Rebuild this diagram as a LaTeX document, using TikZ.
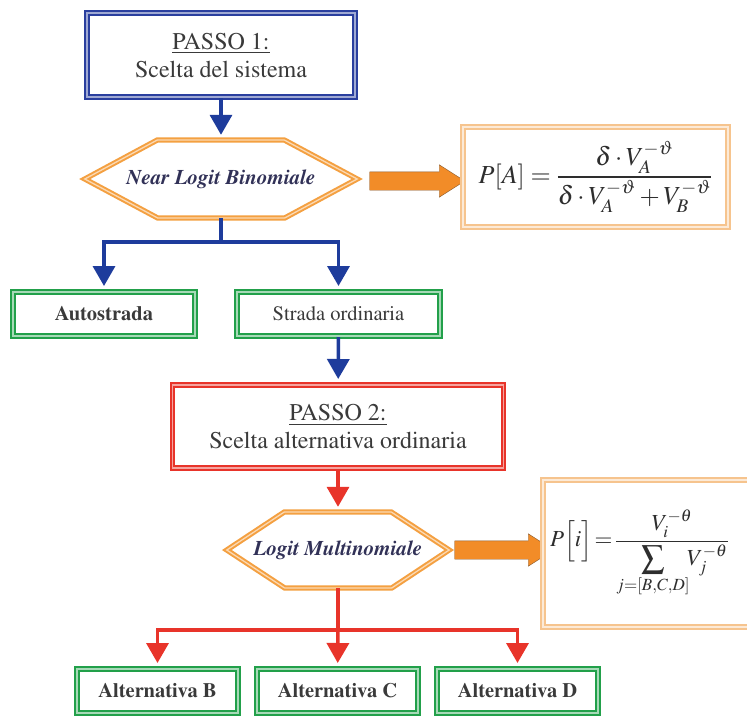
\documentclass[tikz,border=0pt]{standalone}
\usepackage{amsmath}
\usepackage[T1]{fontenc}
\usepackage{mathptmx}
\usetikzlibrary{arrows.meta,shapes.arrows}
\definecolor{passoblu}{HTML}{2A3F9E}
\definecolor{lineablu}{HTML}{1E3C9C}
\definecolor{passorosso}{HTML}{E8342A}
\definecolor{boxverde}{HTML}{22A04A}
\definecolor{esaarancio}{HTML}{F4A041}
\definecolor{formarancio}{HTML}{F6C48E}
\definecolor{frecciaarancio}{HTML}{F28C28}
\definecolor{testo}{HTML}{3A3A3A}
\tikzset{
  passo/.style={draw=#1, line width=2pt, double=#1!45, double distance=1.2pt, fill=white,
    align=center, text=testo, font=\fontsize{24}{28}\selectfont, inner sep=0pt},
  scelta/.style={draw=boxverde, line width=2pt, double=boxverde!40, double distance=1.2pt,
    fill=white, text=testo, font=\fontsize{20.5}{24}\selectfont, minimum height=44pt, inner sep=0pt},
  grassetto/.style={font=\bfseries\fontsize{20.5}{24}\selectfont},
  esagono/.style={draw=esaarancio, line width=2pt, double=esaarancio!40, double distance=1.3pt, line join=miter},
  esatesto/.style={text=testo!85!blue, font=\bfseries\itshape\fontsize{21}{25}\selectfont, inner sep=0pt},
  formula/.style={draw=formarancio, line width=2pt, double=formarancio!35, double distance=1.2pt,
    fill=white, inner sep=0pt, text=testo!80!black},
  freccia/.style={single arrow, draw=brown!70!black, fill=frecciaarancio, inner xsep=0pt, inner ysep=9pt,
    single arrow head extend=7pt, single arrow tip angle=65},
  blinea/.style={draw=lineablu, line width=3.5pt},
  bfreccia/.style={blinea, -{Triangle[width=22pt,length=20pt]}, shorten >=5pt},
  rlinea/.style={draw=passorosso, line width=3.5pt},
  rfreccia/.style={rlinea, -{Triangle[width=22pt,length=20pt]}, shorten >=5pt}
}
\begin{document}
\begin{tikzpicture}[x=1pt,y=-1pt]
          \clip (0,0) rectangle (747,718);
          \fill[white] (0,0) rectangle (747,718);
          \node[passo=passoblu, minimum width=268pt, minimum height=84pt] (passoA) at (221,55)
            {\underline{PASSO 1:}\\Scelta del sistema};
          \node[esatesto, minimum width=272pt, minimum height=78pt] (nlb) at (221,179) {Near Logit Binomiale};
          \draw[esagono] (nlb.west) -- ++(72.5,-39) -- ++(127,0) -- (nlb.east) -- ++(-72.5,39) -- ++(-127,0) -- cycle;
          \node[freccia, minimum height=95pt] (frecciaA) at (410,181) {};
          \node[formula, font=\fontsize{26}{30}\selectfont, minimum width=265pt, minimum height=100pt] (formA) at (595.5,177)
            {$P[A]=\dfrac{\delta\cdot V_A^{-\vartheta}}{\delta\cdot V_A^{-\vartheta}+V_B^{-\vartheta}}$};
          \node[scelta, grassetto, minimum width=182pt] (auto) at (104,314) {Autostrada};
          \node[scelta, minimum width=203pt] (strada) at (338.5,314) {Strada ordinaria};
          \node[passo=passorosso, minimum width=331pt, minimum height=83pt] (passoB) at (338,426.5)
            {\underline{PASSO 2:}\\Scelta alternativa ordinaria};
          \node[esatesto, minimum width=222pt, minimum height=76pt] (lm) at (338,550) {Logit Multinomiale};
          \draw[esagono] (lm.west) -- ++(57.5,-38) -- ++(107,0) -- (lm.east) -- ++(-57.5,38) -- ++(-107,0) -- cycle;
          \node[freccia, minimum height=99pt] (frecciaB) at (497,550) {};
          \node[formula, font=\fontsize{23}{27}\selectfont, minimum height=147pt, text width=243pt, inner xsep=7pt, align=left] (formB) at (671.5,553.5)
            {$P\Big[i\Big]\!=\!\dfrac{V_i^{-\theta}}{\displaystyle\sum_{j=[B,C,D]}\!\!V_j^{-\theta}}$};
          \node[scelta, grassetto, minimum width=161pt] (altB) at (157.5,691) {Alternativa B};
          \node[scelta, grassetto, minimum width=161pt] (altC) at (337.5,691) {Alternativa C};
          \node[scelta, grassetto, minimum width=161pt] (altD) at (517.5,691) {Alternativa D};
          \coordinate (biforcA) at (221,242);
          \coordinate (biforcB) at (338,630);
          \draw[bfreccia] (passoA) -- (nlb);
          \draw[blinea] (nlb) -- (biforcA);
          \draw[bfreccia] (biforcA) -| (auto);
          \draw[bfreccia] (biforcA) -| (strada);
          \draw[bfreccia] (strada) -- (passoB);
          \draw[rfreccia] (passoB) -- (lm);
          \draw[rlinea] (lm) -- (biforcB);
          \draw[rfreccia] (biforcB) -| (altB);
          \draw[rfreccia] (biforcB) -- (altC);
          \draw[rfreccia] (biforcB) -| (altD);
        \end{tikzpicture}
\end{document}
